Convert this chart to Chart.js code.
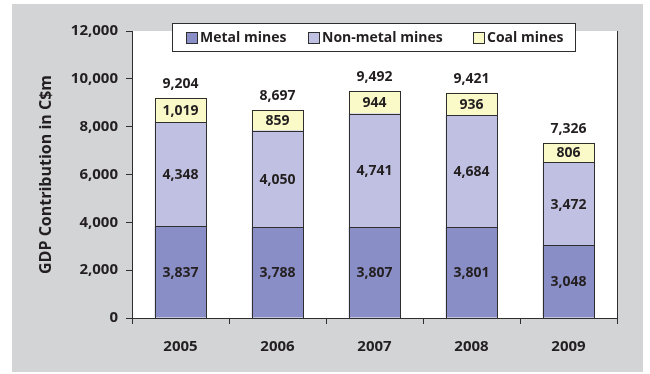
<!DOCTYPE html>
<html><head><meta charset="utf-8">
<script src="https://cdn.jsdelivr.net/npm/chart.js@4.4.1/dist/chart.umd.min.js"></script>
<style>html,body{margin:0;padding:0;background:#fff;}#wrap{width:650px;height:374px;}</style>
</head><body><div id="wrap"><canvas id="c" width="650" height="374"></canvas></div>
<script>
const years = ['2005', '2006', '2007', '2008', '2009'];
const metalMines = [3837, 3788, 3807, 3801, 3048];
const nonMetalMines = [4348, 4050, 4741, 4684, 3472];
const coalMines = [1019, 859, 944, 936, 806];
const totals = [9204, 8697, 9492, 9421, 7326];
const seriesNames = ['Metal mines', 'Non-metal mines', 'Coal mines'];
const yTickStep = 2000;
const yMax = 12000;
const axisTitle = 'GDP Contribution in C$m';

const FONT = "'Open Sans', sans-serif";
const TEXT = '#231f20';
const LINE = '#2e2e2e';
const colors = ['#8a8ec6', '#c0c1e2', '#fafac8'];
const fmt = v => v.toLocaleString('en-US');

const bgPlugin = {
  id: 'bg',
  beforeDraw(chart) {
    const ctx = chart.ctx, a = chart.chartArea;
    ctx.save();
    ctx.fillStyle = '#fff';
    ctx.fillRect(0, 0, chart.width, chart.height);
    ctx.fillStyle = '#d3d4d6';
    ctx.fillRect(12, 4, 631, 368);
    ctx.fillStyle = '#fff';
    ctx.fillRect(a.left, a.top, a.right - a.left, a.bottom - a.top);
    ctx.restore();
  },
  afterDraw(chart) {
    const ctx = chart.ctx, a = chart.chartArea;
    ctx.save();
    ctx.strokeStyle = LINE; ctx.lineWidth = 1;
    ctx.beginPath();
    ctx.moveTo(Math.round(a.right) + 0.5, a.top);
    ctx.lineTo(Math.round(a.right) + 0.5, a.bottom);
    ctx.stroke();
    // legend box
    ctx.fillStyle = '#fff';
    ctx.fillRect(172.5, 23.5, 403, 28);
    ctx.strokeRect(172.5, 23.5, 403, 28);
    const sqX = [186, 308, 473];
    ctx.font = 'bold 14px ' + FONT;
    ctx.textBaseline = 'middle';
    ctx.textAlign = 'left';
    seriesNames.forEach((n, i) => {
      ctx.fillStyle = colors[i];
      ctx.fillRect(sqX[i] + 0.5, 32.5, 11, 11);
      ctx.strokeStyle = LINE;
      ctx.strokeRect(sqX[i] + 0.5, 32.5, 11, 11);
      ctx.fillStyle = TEXT;
      ctx.fillText(n, sqX[i] + 14, 38);
    });
    ctx.restore();
  },
  afterDatasetsDraw(chart) {
    const ctx = chart.ctx;
    ctx.save();
    ctx.strokeStyle = LINE;
    ctx.lineWidth = 1;
    chart.data.datasets.forEach((ds, di) => {
      chart.getDatasetMeta(di).data.forEach(el => {
        const l = Math.round(el.x - el.width / 2), r = Math.round(el.x + el.width / 2);
        const t = Math.round(el.y), b = Math.round(el.base);
        ctx.strokeRect(l + 0.5, t + 0.5, r - l, b - t);
      });
    });
    ctx.fillStyle = TEXT;
    ctx.textAlign = 'center';
    ctx.textBaseline = 'middle';
    ctx.font = 'bold 14px ' + FONT;
    chart.data.datasets.forEach((ds, di) => {
      const meta = chart.getDatasetMeta(di);
      meta.data.forEach((el, i) => {
        const y = (el.y + el.base) / 2;
        ctx.fillText(fmt(ds.data[i]), el.x, y + 1);
      });
    });
    const top = chart.getDatasetMeta(2);
    top.data.forEach((el, i) => {
      ctx.fillText(fmt(totals[i]), el.x, el.y - 14);
    });
    ctx.restore();
  }
};

new Chart(document.getElementById('c'), {
  type: 'bar',
  data: {
    labels: years,
    datasets: [
      { label: seriesNames[0], data: metalMines, backgroundColor: colors[0] },
      { label: seriesNames[1], data: nonMetalMines, backgroundColor: colors[1] },
      { label: seriesNames[2], data: coalMines, backgroundColor: colors[2] }
    ].map(d => Object.assign(d, { borderWidth: 0, barPercentage: 0.53, categoryPercentage: 1 }))
  },
  options: {
    responsive: false,
    animation: false,
    devicePixelRatio: 1,
    layout: { padding: { top: 31, right: 33, left: 0, bottom: 0 } },
    plugins: { legend: { display: false }, tooltip: { enabled: false } },
    scales: {
      x: {
        stacked: true,
        grid: { offset: true, drawOnChartArea: false, drawTicks: true, tickLength: 6, color: LINE, tickColor: LINE },
        border: { color: LINE, width: 1 },
        ticks: { color: TEXT, font: { family: FONT, size: 15, weight: 'bold' }, padding: 14 },
        afterFit(s) { s.height = 56; }
      },
      y: {
        stacked: true, min: 0, max: yMax,
        grid: { drawOnChartArea: false, drawTicks: true, tickLength: 6, color: LINE, tickColor: LINE },
        border: { color: LINE, width: 1 },
        ticks: { stepSize: yTickStep, color: TEXT, padding: 8, font: { family: FONT, size: 15, weight: 'bold' }, callback: v => fmt(v) },
        title: { display: true, text: axisTitle, color: TEXT, font: { family: FONT, size: 16, weight: 'bold' }, padding: { top: 37, bottom: 0 } },
        afterFit(s) { s.width = 132; }
      }
    }
  },
  plugins: [bgPlugin]
});
</script></body></html>
